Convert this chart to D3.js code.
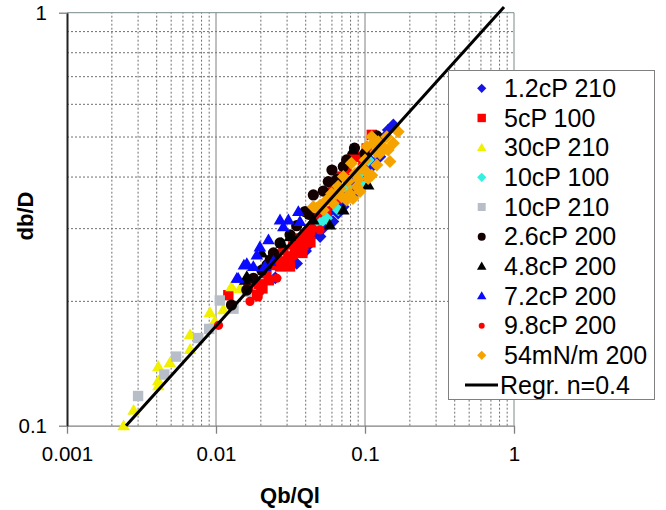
<!DOCTYPE html>
<html>
<head>
<meta charset="utf-8">
<script src="https://cdn.jsdelivr.net/npm/d3@7"></script>
<style>
  body { margin: 0; background: #fff; }
  svg { display: block; font-family: "Liberation Sans", Arial, sans-serif; }
</style>
</head>
<body>
<div id="chart"></div>
<script>
// --------- DATA ---------
const xTickValues = [0.001, 0.01, 0.1, 1];
const xTickLabels = ["0.001", "0.01", "0.1", "1"];
const yTickValues = [0.1, 1];
const yTickLabels = ["0.1", "1"];

const seriesNames = ["1.2cP 210", "5cP 100", "30cP 210", "10cP 100", "10cP 210",
    "2.6cP 200", "4.8cP 200", "7.2cP 200", "9.8cP 200", "54mN/m 200"];

// [Qb/Ql, db/D]
const s12cP210 = [[0.155,0.535],[0.143,0.520],[0.126,0.448],[0.114,0.428],[0.103,0.416],[0.095,0.401],
    [0.083,0.386],[0.0753,0.3585],[0.0715,0.339],[0.066,0.327],[0.061,0.312],[0.0525,0.301],[0.050,0.287],
    [0.0406,0.271],[0.0348,0.247],[0.0314,0.245],[0.088,0.37],[0.058,0.33],[0.045,0.29],[0.135,0.50],
    [0.069,0.35],[0.078,0.365],[0.1,0.42],[0.108,0.44],[0.04,0.265],[0.025,0.228]];
const s5cP100 = [[0.111,0.506],[0.1026,0.469],[0.095,0.448],[0.0975,0.432],[0.083,0.448],[0.0753,0.416],
    [0.068,0.401],[0.0645,0.3825],[0.061,0.372],[0.0645,0.355],[0.058,0.352],[0.050,0.336],[0.046,0.318],
    [0.045,0.303],[0.0428,0.298],[0.0406,0.284],[0.0348,0.284],[0.0386,0.274],[0.0339,0.266],[0.0306,0.257],
    [0.0314,0.243],[0.0269,0.243],[0.0243,0.245],[0.0218,0.234],[0.0121,0.207],[0.0348,0.266],[0.0396,0.290],
    [0.0283,0.266],[0.0256,0.257],[0.050,0.321],[0.0183,0.207],[0.0165,0.215],[0.0195,0.22],
    [0.038,0.262],[0.043,0.278],[0.055,0.33],[0.066,0.37],[0.0226,0.225],[0.027,0.25],[0.033,0.275],[0.0205,0.215]];
const s30cP210 = [[0.0024,0.100],[0.0028,0.109],[0.0041,0.125],[0.0041,0.1285],[0.0041,0.139],[0.0049,0.142],
    [0.0067,0.153],[0.0067,0.166],[0.0091,0.188],[0.0098,0.179],[0.0112,0.191],[0.0127,0.217],[0.0145,0.215]];
const s10cP100 = [[0.1053,0.4397],[0.090,0.404],[0.0949,0.3825],[0.0662,0.333],[0.0553,0.3178],
    [0.0499,0.309],[0.0753,0.379]];
const s10cP210 = [[0.0030,0.118],[0.0045,0.133],[0.0054,0.147],[0.0076,0.163],[0.0090,0.1715],
    [0.0106,0.201],[0.0131,0.192],[0.0161,0.211]];
const s26cP200 = [[0.120,0.503],[0.100,0.456],[0.0715,0.424],[0.060,0.416],[0.0567,0.390],[0.045,0.362],
    [0.0348,0.305],[0.0314,0.29],[0.0269,0.277],[0.0243,0.262],[0.0231,0.252],[0.0203,0.238],[0.0178,0.2275],
    [0.0161,0.213],[0.0127,0.196],[0.0753,0.44],[0.0525,0.37],[0.0396,0.33],
    [0.085,0.47],[0.065,0.395],[0.042,0.325],[0.022,0.245]];
const s48cP200 = [[0.105,0.3825],[0.0715,0.333],[0.058,0.306],[0.045,0.315],[0.0276,0.2765],[0.0203,0.262],
    [0.0161,0.2296],[0.0314,0.287],[0.083,0.465],[0.0157,0.225]];
const s72cP200 = [[0.0306,0.315],[0.0357,0.330],[0.0366,0.312],[0.0283,0.303],[0.0225,0.282],[0.0188,0.259],
    [0.0161,0.247],[0.0141,0.2275],[0.0213,0.243],[0.0243,0.250],[0.0269,0.315],[0.0197,0.271],[0.0178,0.243],
    [0.0154,0.245],[0.0138,0.2275]];
const s98cP200 = [[0.0269,0.2474],[0.0283,0.245],[0.0306,0.2474],[0.0256,0.2275],[0.0197,0.211],[0.0192,0.205],
    [0.0169,0.200],[0.0104,0.175],[0.0428,0.287],[0.0366,0.279],[0.033,0.257],[0.0499,0.2978]];
const s54mN200 = [[0.167,0.515],[0.155,0.483],[0.143,0.465],[0.147,0.436],[0.126,0.456],[0.120,0.428],
    [0.111,0.404],[0.105,0.397],[0.100,0.440],[0.095,0.420],[0.0857,0.408],[0.081,0.432],[0.077,0.390],
    [0.0715,0.401],[0.068,0.375],[0.0645,0.365],[0.0597,0.365],[0.0553,0.352],[0.050,0.342],[0.0474,0.336],
    [0.088,0.379],[0.0926,0.369],[0.079,0.365],[0.0753,0.352],[0.083,0.355],[0.103,0.474],[0.114,0.483],
    [0.123,0.487],[0.132,0.474],[0.045,0.339],[0.0525,0.333],[0.061,0.3455],[0.0697,0.3585],[0.111,0.501],
    [0.140,0.501],[0.058,0.355],[0.066,0.38],[0.09,0.395],[0.1,0.415],[0.118,0.46]];

// regression n=0.4, end points of the drawn line
const regrX = [0.00249, 0.857];
const regrY = [0.1, 1.032];

// --------- GRAPHING ---------
const W = 666, H = 510;
const margin = {top: 12.7, right: 152, bottom: 84.3, left: 67};

let svg = d3.select("#chart").append("svg")
    .attr("width", W).attr("height", H);
svg.append("rect").attr("width", W).attr("height", H).attr("fill", "#fff");

let xScale = d3.scaleLog().domain([0.001, 1]).range([margin.left, W - margin.right]);
let yScale = d3.scaleLog().domain([0.1, 1]).range([H - margin.bottom, margin.top]);

// Gridlines
let minorX = xScale.ticks().filter(d => !xTickValues.some(t => Math.abs(t - d) / t < 1e-6));
let minorY = yScale.ticks().filter(d => !yTickValues.some(t => Math.abs(t - d) / t < 1e-6));

svg.append("g").selectAll("line").data(minorX).join("line")
    .attr("x1", d => xScale(d)).attr("x2", d => xScale(d))
    .attr("y1", yScale(0.1)).attr("y2", yScale(1))
    .attr("stroke", "#707070").attr("stroke-width", 1).attr("stroke-dasharray", "2,2");
svg.append("g").selectAll("line").data(minorY).join("line")
    .attr("x1", xScale(0.001)).attr("x2", xScale(1))
    .attr("y1", d => yScale(d)).attr("y2", d => yScale(d))
    .attr("stroke", "#707070").attr("stroke-width", 1).attr("stroke-dasharray", "2,2");
svg.append("g").selectAll("line").data([0.01, 0.1]).join("line")
    .attr("x1", d => xScale(d)).attr("x2", d => xScale(d))
    .attr("y1", yScale(0.1)).attr("y2", yScale(1))
    .attr("stroke", "#808080").attr("stroke-width", 1);

// frame top / right
svg.append("path")
    .attr("d", `M${xScale(0.001)},${yScale(1)}H${xScale(1)}V${yScale(0.1)}`)
    .attr("fill", "none").attr("stroke", "#7a8a8a").attr("stroke-width", 1);

// Axes
let xAxis = d3.axisBottom(xScale).tickValues(xTickValues)
    .tickFormat((d, i) => xTickLabels[i]).tickSizeInner(8).tickSizeOuter(0).tickPadding(13);
let gx = svg.append("g").attr("transform", `translate(0,${yScale(0.1)})`).call(xAxis);
gx.select(".domain").attr("stroke", "#808080").attr("stroke-width", 1.3);
gx.selectAll(".tick line").attr("stroke", "#808080").attr("stroke-width", 1.3);
gx.selectAll("text").attr("font-size", 20.5).attr("fill", "#000");

let yAxis = d3.axisLeft(yScale).tickValues(yTickValues)
    .tickFormat((d, i) => yTickLabels[i]).tickSizeInner(8).tickSizeOuter(0).tickPadding(12);
let gy = svg.append("g").attr("transform", `translate(${xScale(0.001)},0)`).call(yAxis);
gy.select(".domain").attr("stroke", "#222").attr("stroke-width", 2);
gy.selectAll(".tick line").attr("stroke", "#808080").attr("stroke-width", 1.3);
gy.selectAll("text").attr("font-size", 20.5).attr("fill", "#000");

// Axis titles
svg.append("text")
    .attr("x", 290).attr("y", 503)
    .attr("text-anchor", "middle").attr("font-size", 22).attr("font-weight", "bold")
    .text("Qb/Ql");
svg.append("text")
    .attr("transform", "translate(33,216) rotate(-90)")
    .attr("text-anchor", "middle").attr("font-size", 22).attr("font-weight", "bold")
    .text("db/D");

// Markers
function diamond(s) { return `M0,${-s}L${s},0L0,${s}L${-s},0Z`; }
function square(s) { return `M${-s},${-s}H${s}V${s}H${-s}Z`; }
function triangle(s) { return `M0,${-s * 1.05}L${s * 1.05},${s * 0.75}L${-s * 1.05},${s * 0.75}Z`; }
function circle(s) { return `M${-s},0A${s},${s} 0 1,0 ${s},0A${s},${s} 0 1,0 ${-s},0Z`; }

const styles = [
    {shape: diamond, r: 6.3, lr: 4.6, color: "#1414e6"},
    {shape: square, r: 5.2, lr: 4.2, color: "#ff0000"},
    {shape: triangle, r: 6.0, lr: 4.5, color: "#f0f000"},
    {shape: diamond, r: 6.3, lr: 4.6, color: "#33f0e0"},
    {shape: square, r: 5.2, lr: 4.0, color: "#b8bec8"},
    {shape: circle, r: 5.6, lr: 4.0, color: "#140000"},
    {shape: triangle, r: 6.0, lr: 4.5, color: "#000000"},
    {shape: triangle, r: 6.0, lr: 4.5, color: "#0a0aff"},
    {shape: circle, r: 4.6, lr: 3.0, color: "#ff0000"},
    {shape: diamond, r: 6.5, lr: 4.6, color: "#f5a300"}
];
const allSeries = [s12cP210, s5cP100, s30cP210, s10cP100, s10cP210,
    s26cP200, s48cP200, s72cP200, s98cP200, s54mN200];

allSeries.forEach((data, i) => {
    let st = styles[i];
    svg.append("g").selectAll("path").data(data).join("path")
        .attr("transform", d => `translate(${xScale(d[0])},${yScale(d[1])})`)
        .attr("d", st.shape(st.r))
        .attr("fill", st.color);
});

// Regression line
let line = d3.line().x(d => xScale(d[0])).y(d => yScale(d[1]));
svg.append("path")
    .attr("d", line(regrX.map((x, i) => [x, regrY[i]])))
    .attr("fill", "none").attr("stroke", "#000").attr("stroke-width", 3);

// Legend
let lg = svg.append("g");
lg.append("rect")
    .attr("x", 448.5).attr("y", 70.5).attr("width", 206).attr("height", 329)
    .attr("fill", "#fff").attr("stroke", "#808080").attr("stroke-width", 1);
const rowY = d3.scaleLinear().domain([0, 10]).range([88.3, 385]);
seriesNames.forEach((name, i) => {
    let st = styles[i];
    lg.append("path")
        .attr("transform", `translate(481.7,${rowY(i)})`)
        .attr("d", st.shape(st.lr))
        .attr("fill", st.color);
    lg.append("text")
        .attr("x", 504).attr("y", rowY(i) + 8.8)
        .attr("font-size", 25).text(name);
});
lg.append("line")
    .attr("x1", 465).attr("x2", 498).attr("y1", rowY(10)).attr("y2", rowY(10))
    .attr("stroke", "#000").attr("stroke-width", 3);
lg.append("text")
    .attr("x", 500).attr("y", rowY(10) + 8.8)
    .attr("font-size", 25).text("Regr. n=0.4");
</script>
</body>
</html>
